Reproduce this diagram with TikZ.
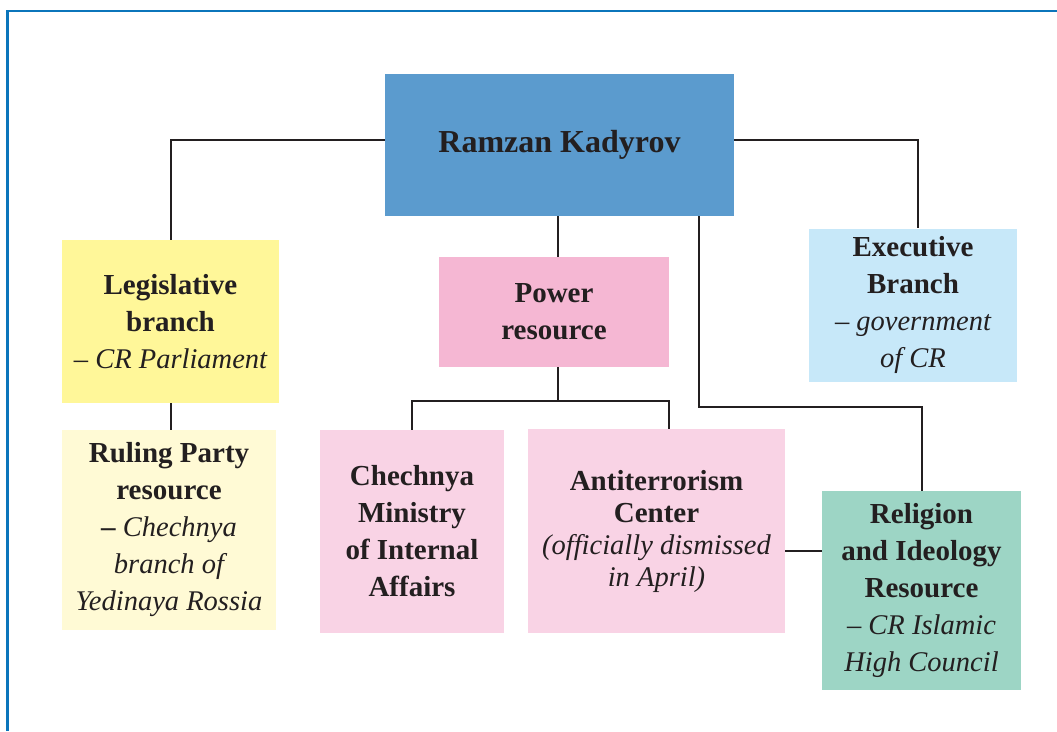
\documentclass[tikz,border=0pt]{standalone}
\usepackage{fontspec}
\setmainfont{Liberation Serif}
\usepackage{tikz}
\usetikzlibrary{calc}
\definecolor{ink}{HTML}{231F20}
\definecolor{framecol}{HTML}{0B75BB}
\definecolor{chiefcol}{HTML}{5B9BCE}
\definecolor{legiscol}{HTML}{FFF799}
\definecolor{partycol}{HTML}{FFFAD5}
\definecolor{powercol}{HTML}{F5B7D3}
\definecolor{unitcol}{HTML}{F9D3E5}
\definecolor{execcol}{HTML}{C7E8F9}
\definecolor{religcol}{HTML}{9DD5C5}
\newcommand\subline[1]{{\fontsize{28.5}{37}\selectfont\mdseries\itshape #1}}
\tikzset{
x=1pt, y=-1pt,
box/.style={rectangle,inner sep=0pt,align=center,text=ink,
  font=\fontsize{29}{37}\selectfont\bfseries},
tight/.style={font=\fontsize{29}{32}\selectfont\bfseries},
link/.style={line width=2pt,draw=ink},
frame/.style={line width=2.5pt,draw=framecol},
}
\tikzstyle{chief} = [box, fill=chiefcol, font=\fontsize{32}{37}\selectfont\bfseries]

\begin{document}
\begin{tikzpicture}
\useasboundingbox (0,0) rectangle (1057,731);
\draw[frame] (7.5,731) |- (1057,11);

\node[chief, minimum width=349pt, minimum height=142pt] (kadyrov) at (559.5,145) {Ramzan Kadyrov};
\node[box, fill=legiscol, minimum width=217pt, minimum height=163pt] (legis) at (170.5,321.5)
  {Legislative\\branch\\\subline{-- CR Parliament}};
\node[box, fill=partycol, minimum width=214pt, minimum height=200pt] (party) at (169,530)
  {Ruling Party\\resource\\-- \subline{Chechnya}\\\subline{branch of}\\\subline{Yedinaya Rossia}};
\node[box, fill=powercol, minimum width=230pt, minimum height=110pt] (power) at (554,312)
  {Power\\resource};
\node[box, fill=execcol, minimum width=208pt, minimum height=153pt] (exec) at (913,305)
  {Executive\\Branch\\\subline{-- government}\\\subline{of CR}};
\node[box, fill=unitcol, minimum width=184pt, minimum height=203pt] (ministry) at (412,531.5)
  {Chechnya\\Ministry\\of Internal\\Affairs};
\node[box, tight, fill=unitcol, minimum width=257pt, minimum height=204pt] (antiterror) at (656.5,531)
  {Antiterrorism\\Center\\{\fontsize{28.5}{32}\selectfont\mdseries\itshape (officially dismissed}\\{\fontsize{28.5}{32}\selectfont\mdseries\itshape in April)}};
\node[box, fill=religcol, minimum width=199pt, minimum height=199pt] (religion) at (921.5,590.5)
  {Religion\\and Ideology\\Resource\\\subline{-- CR Islamic}\\\subline{High Council}};

% bends
\coordinate (relbend) at (699,407);
\coordinate (split) at (558,401);
\coordinate (atr) at ([yshift=-20pt]antiterror.east);

\draw[link] ([yshift=5pt]kadyrov.west) -| (legis.north);
\draw[link] ([yshift=5pt]kadyrov.east) -| ([xshift=5pt]exec.north);
\draw[link] (split |- kadyrov.south) -- (split |- power.north);
\draw[link] (split |- power.south) -- (split);
\draw[link] (relbend |- kadyrov.south) -- (relbend) -| (religion.north);
\draw[link] (legis.south) -- (legis.south |- party.north);
\draw[link] (ministry.north) |- (split) -| ([xshift=12.5pt]antiterror.north);
\draw[link] (atr) -- (atr -| religion.west);
\end{tikzpicture}
\end{document}
